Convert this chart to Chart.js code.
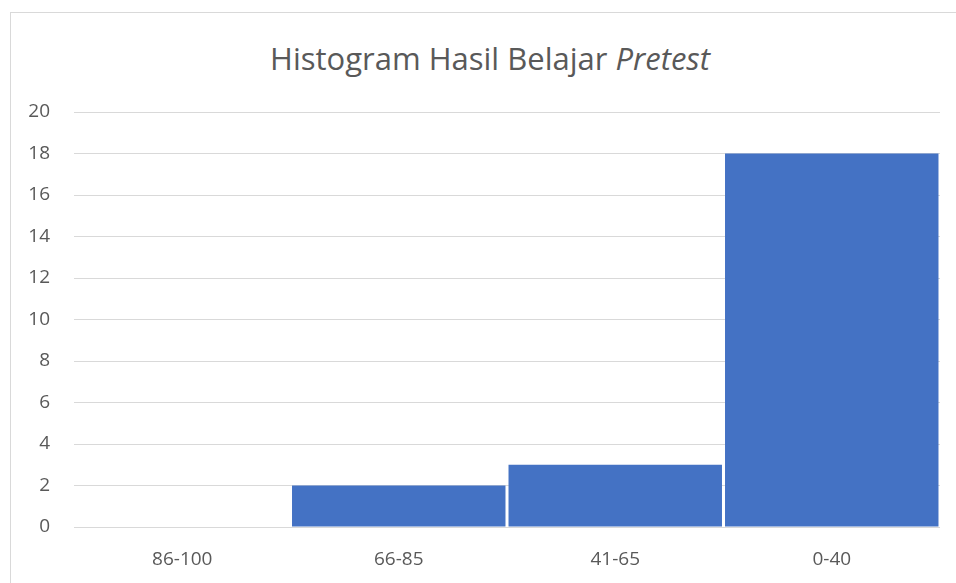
<!DOCTYPE html>
<html>
<head>
<meta charset="utf-8">
<script src="https://cdn.jsdelivr.net/npm/chart.js@4.4.0/dist/chart.umd.min.js"></script>
<style>
  html, body { margin: 0; padding: 0; background: #fff; }
  #wrap { position: relative; width: 956px; height: 583px; overflow: hidden; }
  #frame {
    position: absolute; left: 10px; top: 12px; width: 960px; height: 600px;
    border: 1px solid #d9d9d9; box-sizing: border-box;
  }
  #title {
    position: absolute; left: 10px; width: 960px; top: 37px; text-align: center;
    font-family: "Open Sans", sans-serif; font-size: 31px; color: #595959;
    line-height: 42px; white-space: nowrap;
  }
  canvas { position: absolute; left: 0; top: 0; }
</style>
</head>
<body>
<div id="wrap">
  <div id="frame"></div>
  <div id="title">Histogram Hasil Belajar <em>Pretest</em></div>
  <canvas id="chart" width="956" height="583"></canvas>
</div>
<script>
const categories = ["86-100", "66-85", "41-65", "0-40"];
const frequencies = [0, 2, 3, 18];
const yTicks = [0, 2, 4, 6, 8, 10, 12, 14, 16, 18, 20];

const textColor = "#595959";
const gridColor = "#d9d9d9";

new Chart(document.getElementById("chart"), {
  type: "bar",
  data: {
    labels: categories,
    datasets: [{
      data: frequencies,
      backgroundColor: "#4472c4",
      borderWidth: 0,
      barPercentage: 1,
      categoryPercentage: 0.986
    }]
  },
  options: {
    responsive: false,
    animation: false,
    layout: { padding: { top: 112, right: 16, left: 0, bottom: 0 } },
    plugins: { legend: { display: false }, tooltip: { enabled: false } },
    scales: {
      x: {
        grid: { display: false },
        border: { display: false },
        ticks: {
          color: textColor,
          font: { family: "Open Sans", size: 19 },
          padding: 13
        },
        afterFit: s => { s.height = 56; }
      },
      y: {
        min: 0,
        max: 20,
        afterBuildTicks: s => { s.ticks = yTicks.map(v => ({ value: v })); },
        grid: { color: gridColor, lineWidth: 1, drawTicks: false },
        border: { display: false },
        ticks: {
          color: textColor,
          font: { family: "Open Sans", size: 19 },
          padding: 24
        },
        afterFit: s => { s.width = 74; }
      }
    }
  }
});
</script>
</body>
</html>
